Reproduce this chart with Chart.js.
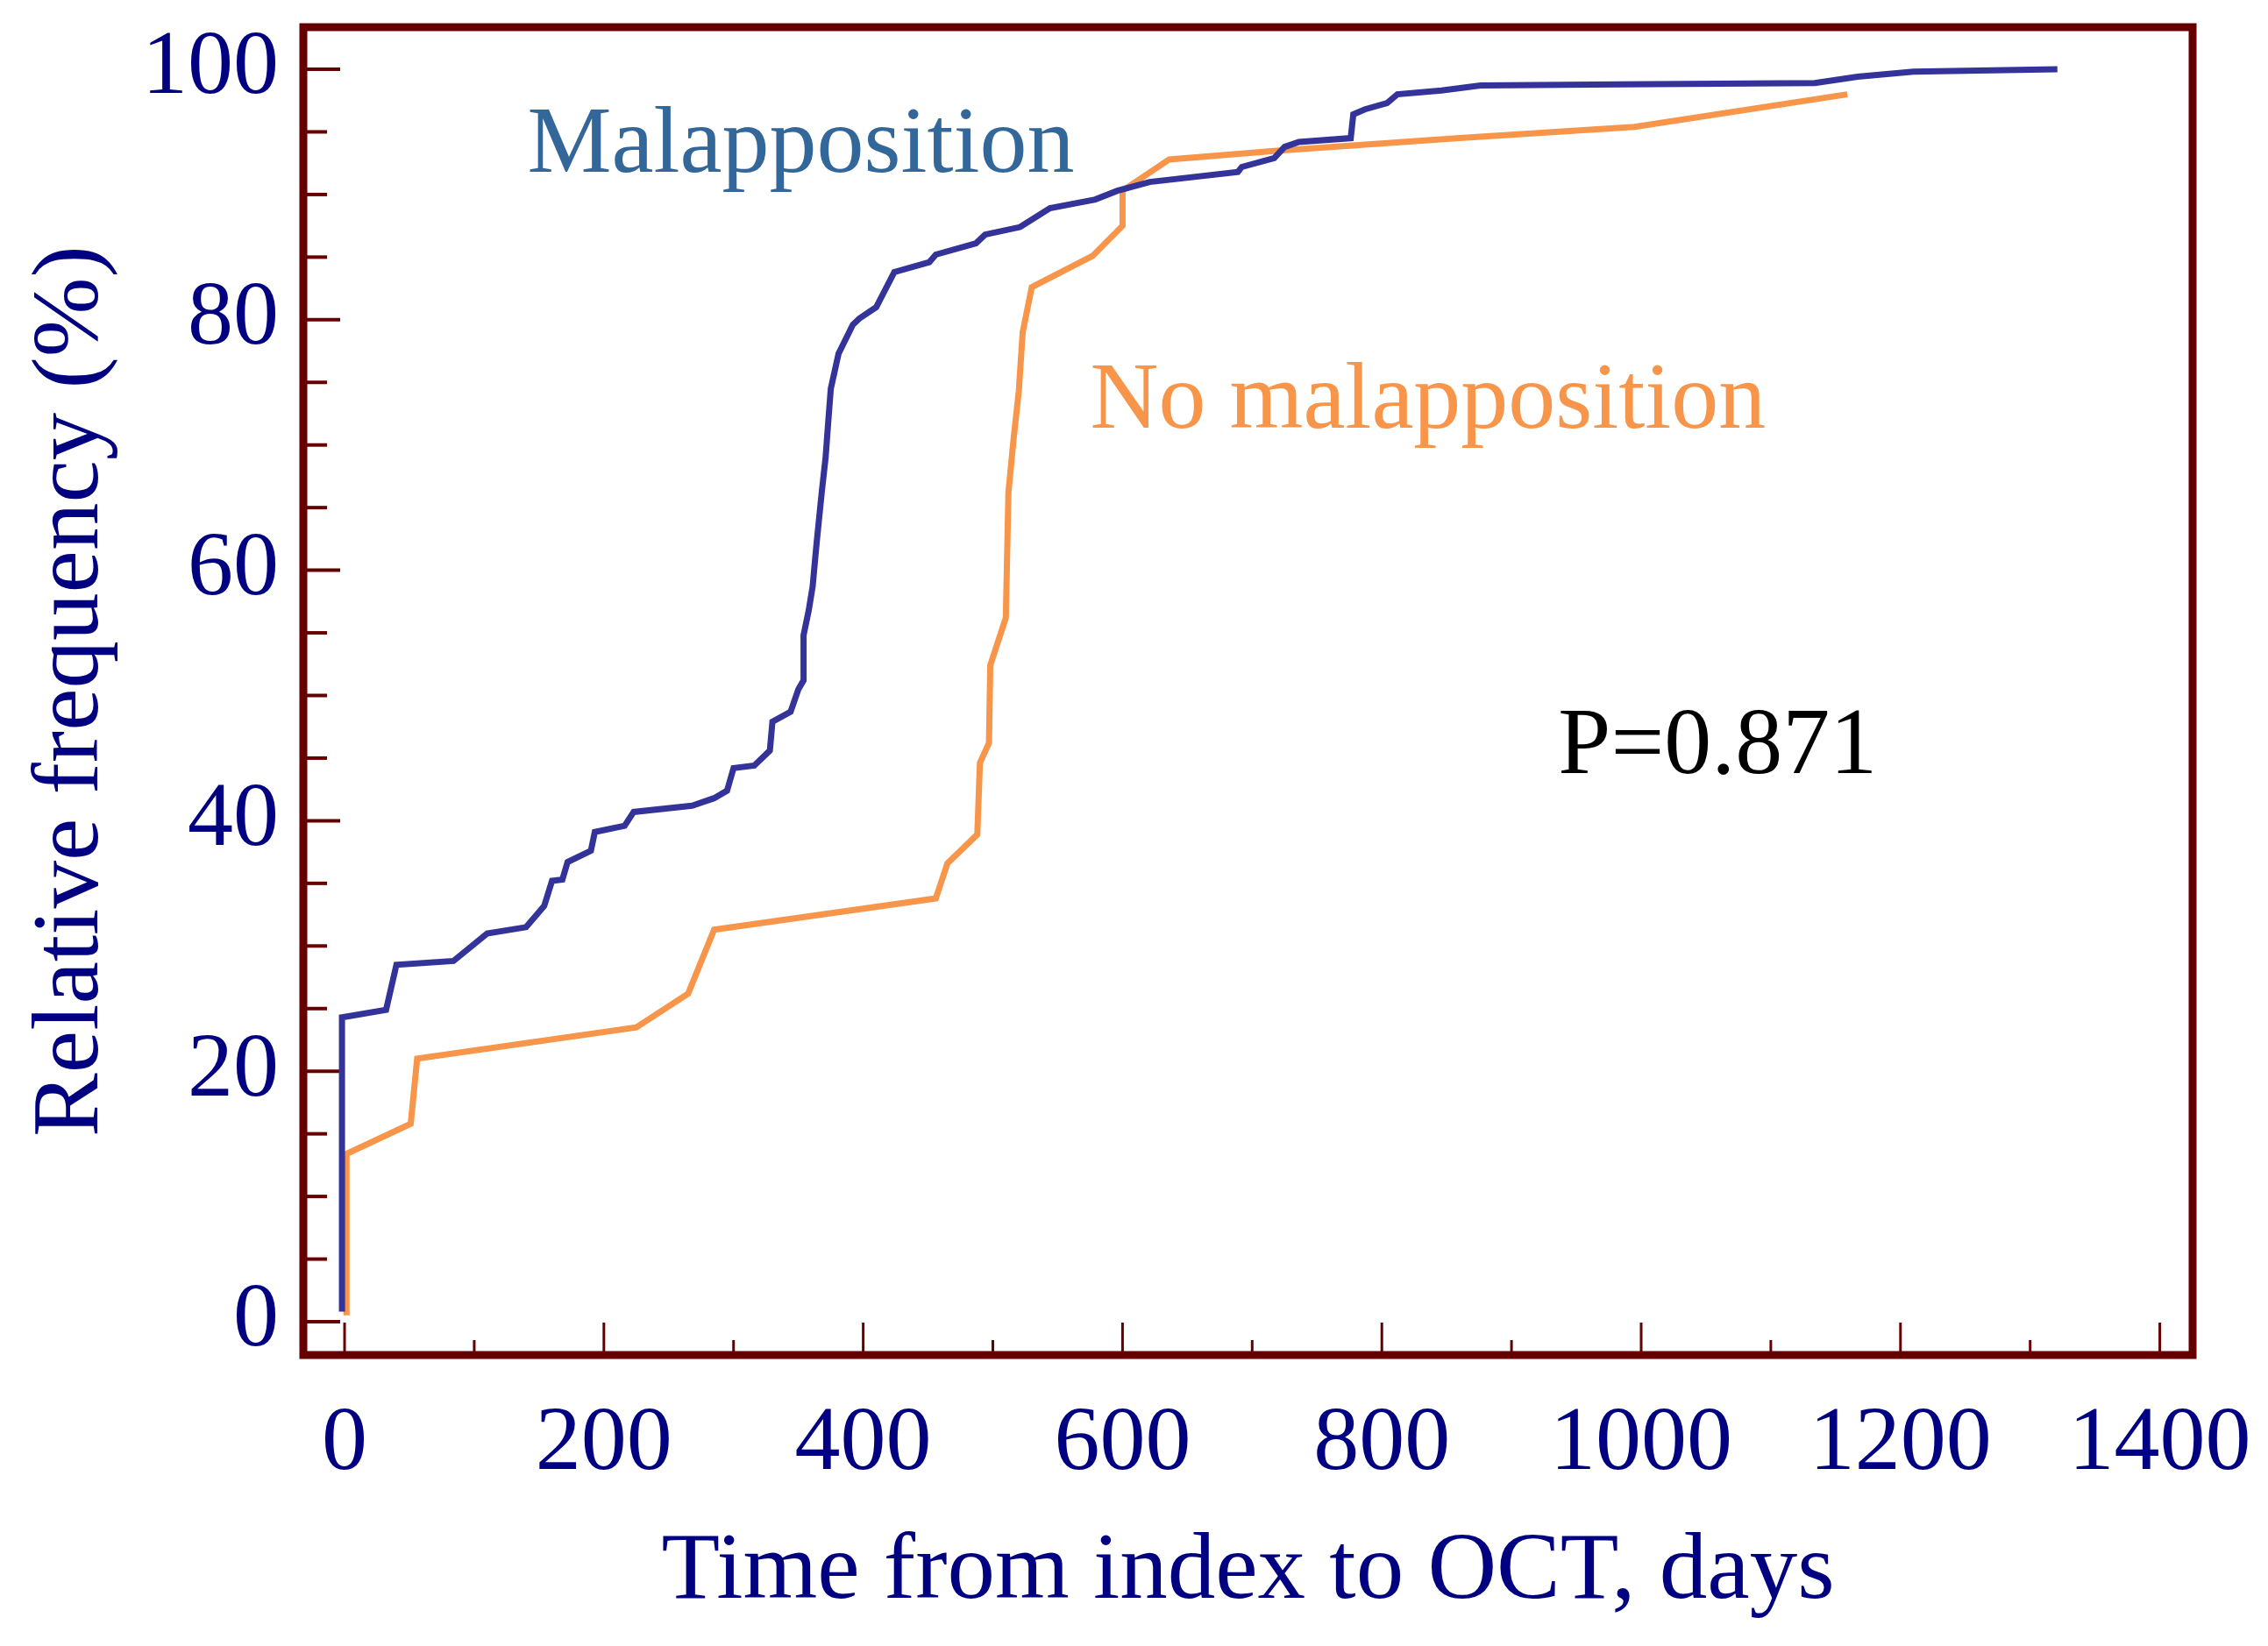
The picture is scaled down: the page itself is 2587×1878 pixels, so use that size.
<!DOCTYPE html>
<html>
<head>
<meta charset="utf-8">
<script src="https://cdn.jsdelivr.net/npm/chart.js@4.4.0/dist/chart.umd.min.js"></script>
<style>
  html, body { margin: 0; padding: 0; background: #fff; }
  #wrap { width: 2587px; height: 1878px; }
</style>
</head>
<body>
<div id="wrap"><canvas id="cdf" width="2587" height="1878"></canvas></div>
<script>
// cumulative curves (days, %)
const malX = [-2, -2, 32, 40, 84, 110, 140, 154, 160, 168, 172, 190, 193, 216, 223, 268, 285, 295, 300, 316, 328, 330, 344, 350, 354, 354, 358, 361, 364, 368, 371, 373, 375, 381, 392, 397, 410, 424, 451, 456, 487, 494, 521, 544, 579, 596, 621, 689, 692, 717, 725, 736, 776, 778, 787, 804, 812, 846, 876, 985, 1134, 1167, 1210, 1321];
const malY = [0.8, 24.3, 24.9, 28.5, 28.8, 31.0, 31.5, 33.2, 35.2, 35.3, 36.7, 37.6, 39.1, 39.6, 40.7, 41.2, 41.8, 42.4, 44.2, 44.4, 45.6, 47.9, 48.7, 50.5, 51.2, 54.8, 56.8, 58.7, 62.1, 66.2, 69.0, 71.8, 74.5, 77.3, 79.6, 80.1, 81.0, 83.8, 84.6, 85.2, 86.1, 86.8, 87.4, 88.9, 89.6, 90.3, 91.0, 91.8, 92.2, 92.9, 93.8, 94.2, 94.5, 96.4, 96.8, 97.3, 98.0, 98.3, 98.7, 98.8, 98.9, 99.4, 99.8, 100.0];

const noMalX = [1.5, 1.5, 51, 56, 225, 265, 285, 456, 465, 488, 490, 497, 498, 510, 512, 516, 520, 523, 530, 577, 600, 600, 636, 719, 860, 995, 1159];
const noMalY = [0.5, 13.4, 15.8, 21.0, 23.5, 26.2, 31.3, 33.8, 36.6, 38.9, 44.6, 46.2, 52.4, 56.2, 66.2, 70.5, 74.3, 79.0, 82.6, 85.1, 87.5, 90.3, 92.8, 93.5, 94.5, 95.4, 98.0];

const xTicks = [0, 200, 400, 600, 800, 1000, 1200, 1400];
const xMinorTicks = [100, 300, 500, 700, 900, 1100, 1300];
const yTicks = [0, 20, 40, 60, 80, 100];
const yMinorTicks = [5, 10, 15, 25, 30, 35, 45, 50, 55, 65, 70, 75, 85, 90, 95];

const frameColor = '#660000';
const navy = '#000080';
const serif = '"Liberation Serif", "Times New Roman", serif';

// text placed in data units: [text, x, y(baseline), colour]
const notes = [
    ['Malapposition', 141, 91.8, '#336699'],
    ['No malapposition', 575, 71.4, '#F7964A'],
    ['P=0.871', 936, 43.8, '#000000']
];

function pts(xs, ys) {
    return xs.map((v, i) => ({ x: v, y: ys[i] }));
}

const framePlugin = {
    id: 'frame',
    beforeDatasetsDraw(chart) {
        const { ctx, chartArea: a, scales: { x, y } } = chart;
        ctx.save();
        ctx.strokeStyle = frameColor;
        ctx.lineCap = 'butt';
        function seg(x1, y1, x2, y2) {
            ctx.beginPath();
            ctx.moveTo(x1, y1);
            ctx.lineTo(x2, y2);
            ctx.stroke();
        }
        ctx.lineWidth = 4;
        yTicks.forEach(v => { const p = y.getPixelForValue(v); seg(a.left, p, a.left + 42, p); });
        yMinorTicks.forEach(v => { const p = y.getPixelForValue(v); seg(a.left, p, a.left + 27, p); });
        ctx.lineWidth = 3;
        xTicks.forEach(v => { const p = x.getPixelForValue(v); seg(p, a.bottom, p, a.bottom - 37); });
        xMinorTicks.forEach(v => { const p = x.getPixelForValue(v); seg(p, a.bottom, p, a.bottom - 17); });
        ctx.restore();
    },
    afterDatasetsDraw(chart) {
        const { ctx, chartArea: a, scales: { x, y } } = chart;
        ctx.save();
        ctx.lineWidth = 9;
        ctx.strokeStyle = frameColor;
        ctx.strokeRect(a.left, a.top, a.right - a.left, a.bottom - a.top);
        ctx.font = '108px ' + serif;
        ctx.textBaseline = 'alphabetic';
        ctx.textAlign = 'left';
        notes.forEach(n => {
            ctx.fillStyle = n[3];
            ctx.fillText(n[0], x.getPixelForValue(n[1]), y.getPixelForValue(n[2]));
        });
        ctx.restore();
    }
};

new Chart(document.getElementById('cdf'), {
    type: 'scatter',
    data: {
        datasets: [
            {
                label: 'Malapposition',
                data: pts(malX, malY),
                showLine: true,
                borderColor: '#333399',
                borderWidth: 7,
                pointRadius: 0,
                tension: 0
            },
            {
                label: 'No malapposition',
                data: pts(noMalX, noMalY),
                showLine: true,
                borderColor: '#F7964A',
                borderWidth: 7,
                pointRadius: 0,
                tension: 0
            }
        ]
    },
    options: {
        responsive: false,
        devicePixelRatio: 1,
        animation: false,
        layout: { padding: { top: 31, right: 86, left: 0, bottom: 0 } },
        plugins: { legend: { display: false }, tooltip: { enabled: false } },
        scales: {
            x: {
                type: 'linear',
                min: -31.8,
                max: 1425.3,
                grid: { display: false, drawTicks: false },
                border: { display: false },
                afterBuildTicks: s => { s.ticks = xTicks.map(v => ({ value: v })); },
                afterFit: s => { s.height = 332; s.paddingLeft = 0; s.paddingRight = 0; },
                ticks: {
                    autoSkip: false,
                    maxRotation: 0,
                    padding: 40,
                    color: navy,
                    font: { family: serif, size: 104 },
                    callback: v => String(v)
                },
                title: {
                    display: true,
                    text: 'Time from index to OCT, days',
                    color: navy,
                    font: { family: serif, size: 109 },
                    padding: { top: 0, bottom: 18 }
                }
            },
            y: {
                min: -2.66,
                max: 103.36,
                grid: { display: false, drawTicks: false },
                border: { display: false },
                afterBuildTicks: s => { s.ticks = yTicks.map(v => ({ value: v })); },
                afterFit: s => { s.width = 346; s.paddingTop = 0; s.paddingBottom = 0; },
                ticks: {
                    autoSkip: false,
                    padding: 28,
                    color: navy,
                    font: { family: serif, size: 104 },
                    callback: v => String(v)
                },
                title: {
                    display: true,
                    text: 'Relative frequency (%)',
                    color: navy,
                    font: { family: serif, size: 109 },
                    padding: { top: 17, bottom: 0 }
                }
            }
        }
    },
    plugins: [framePlugin]
});
</script>
</body>
</html>
